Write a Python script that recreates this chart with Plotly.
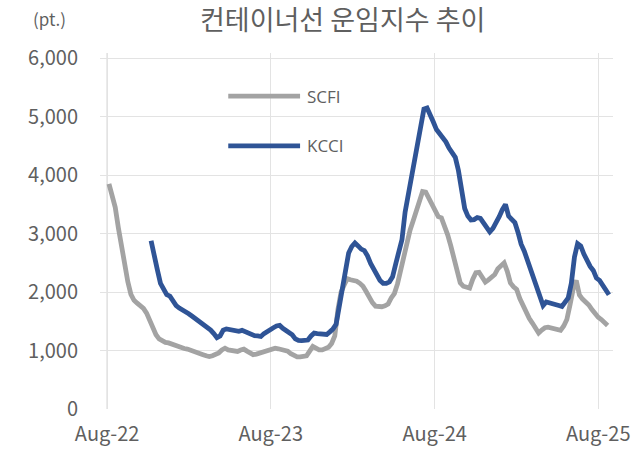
import pandas as pd
import plotly.graph_objects as go

# ---------------- data ----------------
scfi_start = "2022-08-05"   # weekly, Fridays
scfi_values = [
    3850, 3650, 3450, 3100, 2760, 2430, 2180, 1960, 1860, 1810,
    1770, 1720, 1640, 1510, 1380, 1270, 1200, 1160, 1140, 1130,
    1110, 1090, 1060, 1040, 1035, 1025, 1010, 985, 966, 955,
    930, 910, 897, 910, 926, 960, 1010, 1040, 1010, 1000,
    990, 985, 1010, 1024, 990, 955, 930, 940, 955, 975,
    995, 1015, 1030, 1040, 1030, 1020, 1010, 990, 945, 905,
    890, 890, 900, 910, 990, 1069, 1040, 1010, 1010, 1030,
    1055, 1120, 1250, 1700, 2000, 2120, 2230, 2210, 2200, 2185,
    2150, 2100, 2010, 1890, 1820, 1760, 1745, 1750, 1765, 1795,
    1900, 1975, 2140, 2360, 2650, 2880, 3060, 3220, 3400, 3610,
    3720, 3710, 3600, 3470, 3360, 3290, 3270, 3140, 2980, 2790,
    2600, 2380, 2160, 2100, 2075, 2070, 2220, 2330, 2338, 2250,
    2170, 2210, 2250, 2300, 2400, 2440, 2500, 2355, 2156, 2090,
    2045, 1890, 1770, 1630, 1550, 1470, 1380, 1300, 1350, 1390,
    1400, 1385, 1370, 1365, 1345, 1420, 1530, 1780, 2050, 2200,
    1950, 1880, 1830, 1780, 1700, 1630, 1570, 1530, 1480, 1430,
]

kcci_start = "2022-11-07"   # weekly, Mondays
kcci_values = [
    2880, 2590, 2380, 2150, 2030, 1955, 1930, 1850, 1770, 1727,
    1700, 1660, 1630, 1590, 1550, 1515, 1480, 1430, 1380, 1350,
    1290, 1220, 1250, 1350, 1370, 1360, 1350, 1330, 1330, 1345,
    1320, 1290, 1265, 1255, 1250, 1240, 1290, 1330, 1360, 1390,
    1420, 1430, 1380, 1340, 1305, 1270, 1200, 1172, 1170, 1172,
    1180, 1250, 1298, 1290, 1285, 1286, 1275, 1320, 1370, 1450,
    1760, 2080, 2450, 2670, 2780, 2840, 2790, 2735, 2710, 2620,
    2490, 2380, 2275, 2200, 2150, 2150, 2175, 2260, 2480, 2700,
    2900, 3370, 3650, 3950, 4240, 4500, 4830, 5130, 5150, 5050,
    4910, 4780, 4715, 4660, 4570, 4465, 4385, 4305, 4080, 3700,
    3430, 3300, 3235, 3240, 3275, 3260, 3190, 3110, 3030, 3090,
    3180, 3290, 3410, 3499, 3300, 3250, 3190, 3020, 2820, 2700,
    2550, 2380, 2190, 2040, 1890, 1770, 1830, 1820, 1795, 1780,
    1770, 1755, 1820, 1900, 2150, 2600, 2830, 2790, 2650, 2520,
    2440, 2370, 2240, 2200, 2120, 2040, 1955,
]

x_tick_dates = ["2022-08-01", "2023-08-01", "2024-08-01", "2025-08-01"]
x_tick_labels = ["Aug-22", "Aug-23", "Aug-24", "Aug-25"]
y_tick_vals = [0, 1000, 2000, 3000, 4000, 5000, 6000]

series_names = ["SCFI", "KCCI"]
series_colors = ["#a3a3a3", "#2f5496"]

title_text = "컨테이너선 운임지수 추이"
unit_text = "(pt.)"

# ---------------- figure ----------------
scfi_dates = pd.date_range(scfi_start, periods=len(scfi_values), freq="7D")
kcci_dates = pd.date_range(kcci_start, periods=len(kcci_values), freq="7D")

TXT = "#5f5f5f"
FONT = "Noto Sans CJK KR"

fig = go.Figure()
fig.add_trace(go.Scatter(x=scfi_dates, y=scfi_values, mode="lines",
                         name=series_names[0],
                         line=dict(color=series_colors[0], width=4.8),
                         hoverinfo="x+y"))
fig.add_trace(go.Scatter(x=kcci_dates, y=kcci_values, mode="lines",
                         name=series_names[1],
                         line=dict(color=series_colors[1], width=4.8),
                         hoverinfo="x+y"))

fig.update_layout(
    width=644, height=457,
    margin=dict(l=100, r=31, t=53, b=48, autoexpand=False),
    paper_bgcolor="white", plot_bgcolor="white",
    showlegend=False,
    font=dict(family=FONT, color=TXT),
)

fig.update_xaxes(
    type="date",
    range=["2022-07-16", "2025-09-03"],
    tickmode="array", tickvals=x_tick_dates, ticktext=x_tick_labels,
    showgrid=True, gridcolor="#e3e3e3", gridwidth=1,
    showline=False, zeroline=False, ticks="",
    tickfont=dict(size=20, color=TXT, family=FONT),
    ticklabelstandoff=11,
    automargin=False,
)
fig.update_yaxes(
    range=[0, 6090],
    tickmode="array", tickvals=y_tick_vals,
    tickformat=",d",
    showgrid=True, gridcolor="#e3e3e3", gridwidth=1,
    showline=False, zeroline=False, ticks="",
    tickfont=dict(size=20, color=TXT, family=FONT),
    ticklabelstandoff=21,
    automargin=False,
)

# darker left axis line at the first tick
fig.add_shape(type="line", xref="x", yref="y",
              x0=x_tick_dates[0], x1=x_tick_dates[0], y0=0, y1=6090,
              line=dict(color="#c4c4c4", width=1), layer="below")

# title and unit
fig.add_annotation(text=title_text, xref="paper", yref="paper",
                   x=0.472, y=1.0, yshift=35, xanchor="center", yanchor="middle",
                   showarrow=False, font=dict(size=27, color=TXT, family=FONT))
fig.add_annotation(text=unit_text, xref="paper", yref="paper",
                   x=-0.062, y=1.0, yshift=35, xanchor="right", yanchor="middle",
                   showarrow=False, font=dict(size=17, color=TXT, family=FONT))

# manual legend
leg_y = [0.879, 0.739]
for name, color, yy in zip(series_names, series_colors, leg_y):
    fig.add_shape(type="line", xref="paper", yref="paper",
                  x0=0.25, x1=0.39, y0=yy, y1=yy,
                  line=dict(color=color, width=4.8))
    fig.add_annotation(text=name, xref="paper", yref="paper",
                       x=0.40, y=yy, xanchor="left", yanchor="middle",
                       showarrow=False,
                       font=dict(size=17, color=TXT, family="Open Sans"))

fig.write_html("out.html",
               config={"displayModeBar": False},
               post_script="document.body.style.margin='0px';")
